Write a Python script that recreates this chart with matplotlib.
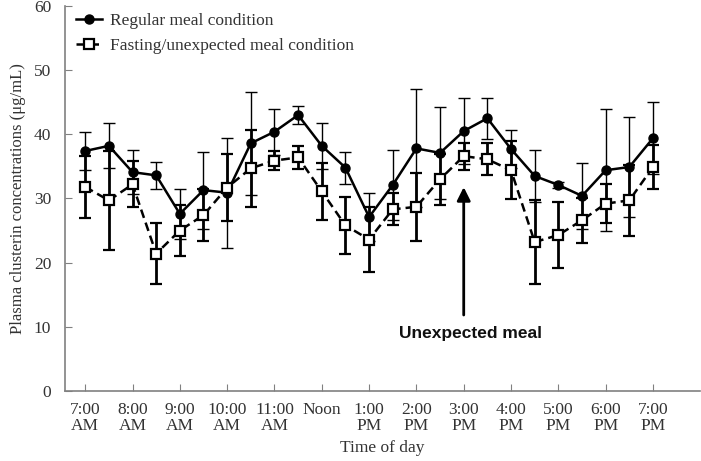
#!/usr/bin/env python3
import matplotlib.pyplot as plt
from matplotlib.lines import Line2D

# half-hour sampling from 7:00 to 19:00
hours = [7 + 0.5 * i for i in range(25)]

regular_mean = [37.4, 38.2, 34.1, 33.6, 27.6, 31.3, 30.9, 38.6, 40.4, 43.0,
                38.2, 34.8, 27.1, 32.1, 37.8, 37.1, 40.5, 42.5, 37.7, 33.5,
                32.1, 30.4, 34.4, 34.9, 39.4]
regular_err = [3.0, 3.5, 3.4, 2.1, 3.9, 6.0, 8.6, 8.0, 3.6, 1.4,
               3.6, 2.5, 3.7, 5.4, 9.2, 7.2, 5.2, 3.2, 3.0, 4.0,
               0.4, 5.1, 9.5, 7.8, 5.6]

fasting_mean = [31.8, 29.7, 32.2, 21.4, 25.0, 27.4, 31.7, 34.7, 35.9, 36.4,
                31.1, 25.8, 23.6, 28.3, 28.7, 33.0, 36.6, 36.1, 34.4, 23.2,
                24.3, 26.6, 29.2, 29.7, 34.9]
fasting_err = [4.8, 7.7, 3.6, 4.8, 4.0, 4.0, 5.2, 6.0, 1.5, 1.8,
               4.4, 4.4, 5.1, 2.5, 5.3, 4.0, 2.1, 2.5, 4.5, 6.6,
               5.2, 3.5, 3.1, 5.5, 3.5]

tick_hours = list(range(7, 20))
tick_labels = ['7:00\nAM', '8:00\nAM', '9:00\nAM', '10:00\nAM', '11:00\nAM',
               'Noon\n', '1:00\nPM', '2:00\nPM', '3:00\nPM', '4:00\nPM',
               '5:00\nPM', '6:00\nPM', '7:00\nPM']

meal_hour = 15

plt.rcParams['font.family'] = ['Liberation Serif', 'DejaVu Serif']
text_color = '#333333'
spine_color = '#808080'

fig = plt.figure(figsize=(7.01, 4.61), dpi=100)
ax = fig.add_axes([0.093, 0.152, 0.906, 0.835])

reg_style = dict(color='black', lw=1.8, marker='o', ms=6.5, mfc='black',
                 mec='black')
fast_style = dict(color='black', lw=1.8, ls=(0, (3.5, 2)), marker='s',
                  ms=7, mfc='white', mec='black', mew=1.6)

ax.errorbar(hours, regular_mean, yerr=regular_err, elinewidth=1.0,
            capsize=4, capthick=1.0, zorder=3, **reg_style)
ax.errorbar(hours, fasting_mean, yerr=fasting_err, elinewidth=2.0,
            capsize=4, capthick=2.0, zorder=4, **fast_style)

ax.annotate('', xy=(meal_hour, 32.2), xytext=(meal_hour, 11.4),
            arrowprops=dict(arrowstyle='-|>', color='black', lw=2,
                            mutation_scale=20))
ax.text(meal_hour + 0.15, 8.9, 'Unexpected meal', ha='center', va='center',
        fontsize=12.5, fontweight='bold', family=['Liberation Sans'],
        color='#111111')

ax.set_xlim(6.577, 20.0)
ax.set_ylim(0, 60)
ax.set_xticks(tick_hours)
ax.set_xticklabels(tick_labels)
ax.set_yticks(range(0, 61, 10))

for side in ['top', 'right']:
    ax.spines[side].set_visible(False)
for side in ['left', 'bottom']:
    ax.spines[side].set_color(spine_color)
    ax.spines[side].set_linewidth(1.2)

ax.tick_params(axis='both', direction='in', length=5, color=spine_color,
               labelsize=12.5, labelcolor=text_color)
ax.tick_params(axis='x', pad=8)
ax.tick_params(axis='y', pad=10)

for lab in ax.get_xticklabels():
    lab.set_linespacing(1.0)

ax.set_xlabel('Time of day', fontsize=12.5, color=text_color, labelpad=4)
ax.set_ylabel('Plasma clusterin concentrations (\u03bcg/mL)', fontsize=12,
              color=text_color, labelpad=6)

handles = [Line2D([], [], **reg_style), Line2D([], [], **fast_style)]
labels = ['Regular meal condition', 'Fasting/unexpected meal condition']
leg = ax.legend(handles, labels, loc='upper left', frameon=False,
                fontsize=12.5, handlelength=1.5, borderaxespad=0.2,
                labelspacing=0.55, handletextpad=0.5,
                bbox_to_anchor=(0.0, 1.01))
for t in leg.get_texts():
    t.set_color(text_color)

fig.savefig('out.png', dpi=100)
